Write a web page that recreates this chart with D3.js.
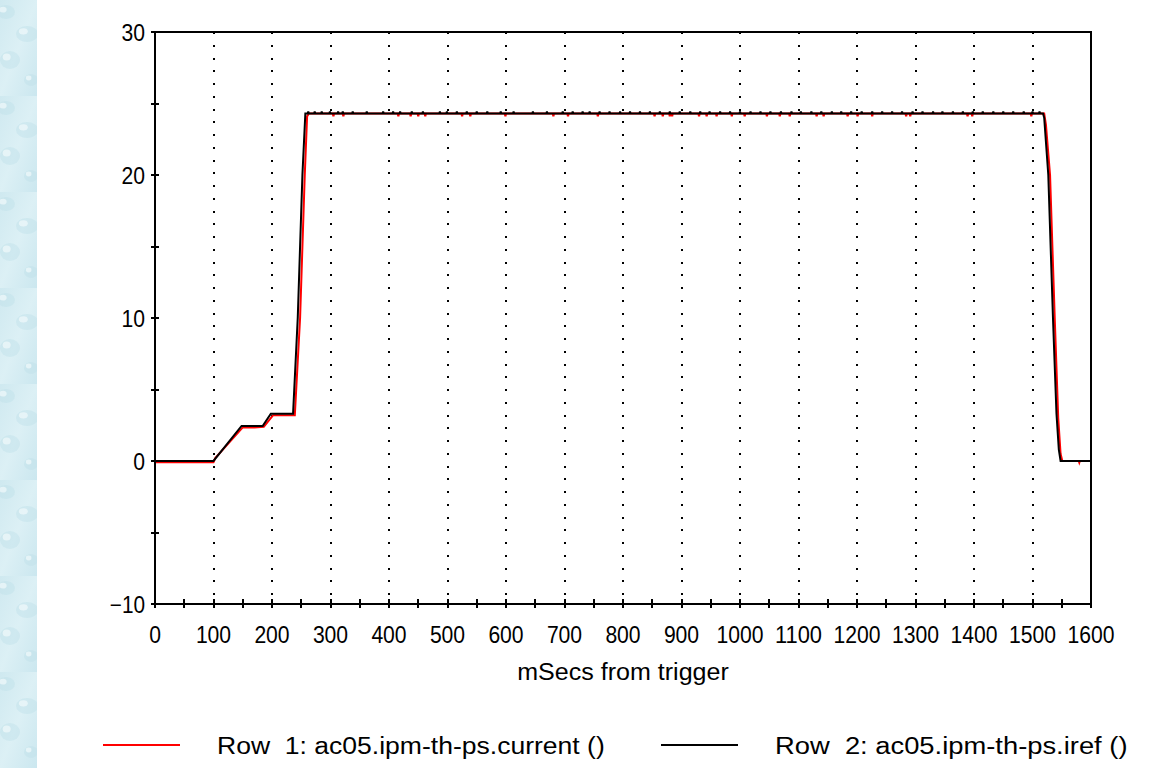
<!DOCTYPE html>
<html>
<head>
<meta charset="utf-8">
<script src="https://cdn.jsdelivr.net/npm/d3@7"></script>
<style>
  body { margin: 0; background: #fff; }
  svg { display: block; }
  text { font-family: 'Liberation Sans', Arial, sans-serif; font-size: 23px; fill: #000; white-space: pre; }
</style>
</head>
<body>
<svg id="chart" width="1158" height="768"></svg>
<script>
// values
const xTickLabels = [0, 100, 200, 300, 400, 500, 600, 700, 800, 900, 1000, 1100, 1200, 1300, 1400, 1500, 1600];
const yTickLabels = [30, 20, 10, 0, -10];
const gridTimes = [100, 200, 300, 400, 500, 600, 700, 800, 900, 1000, 1100, 1200, 1300, 1400, 1500];

// Row 2: iref (black)
const irefSeries = [
  [0, 0], [100, 0], [148, 2.45], [184, 2.45], [198, 3.3], [236, 3.3],
  [244, 10], [252, 20], [257, 24.3], [1518, 24.3], [1520, 24.0],
  [1527, 20], [1535, 10], [1541, 3.3], [1545, 0.8], [1548, 0], [1600, 0]
];
// small upward blips on the iref plateau
const irefBlips = [
  262, 273, 285, 299, 313, 321, 338, 362, 390, 407, 419, 439, 458, 487, 499,
  516, 533, 550, 568, 591, 613, 646, 670, 697, 714, 731, 743, 760, 777, 795,
  812, 829, 846, 863, 880, 897, 915, 932, 948, 966, 983, 1000, 1018, 1035,
  1052, 1070, 1088, 1104, 1122, 1139, 1157, 1173, 1190, 1208, 1226, 1243,
  1260, 1277, 1295, 1312, 1330, 1346, 1364, 1381, 1398, 1415, 1433, 1450,
  1467, 1485, 1500, 1512
];

// Row 1: current (red)
const currentSeries = [
  [0, -0.08], [100, -0.08], [103, 0.2], [150, 2.35], [170, 2.35], [186, 2.4],
  [202, 3.2], [239, 3.2], [248, 10], [256, 20], [260, 24.1], [263, 24.3],
  [1520, 24.3], [1523, 23.5], [1530, 20], [1538, 10], [1544, 3], [1548, 0.5],
  [1551, 0], [1579, 0], [1580, -0.12], [1581, 0], [1600, 0]
];
// small downward dips on the current plateau
const currentDips = [
  305, 322, 416, 437, 450, 462, 525, 539, 599, 681, 706, 757, 854, 868, 880,
  884, 930, 943, 960, 986, 1008, 1046, 1068, 1085, 1131, 1143, 1184, 1201,
  1226, 1284, 1291, 1389, 1397, 1498
];

const legendItems = [
  { label: 'Row  1: ac05.ipm-th-ps.current ()', color: '#ff0000' },
  { label: 'Row  2: ac05.ipm-th-ps.iref ()', color: '#000000' }
];

const W = 1158;
const H = 768;
const plot = { left: 155, right: 1091, top: 32, bottom: 604 };
const charW = 11.75;

const svg = d3.select('#chart');

// textured light-blue strip on the left edge
const defs = svg.append('defs');
const bg = defs.append('linearGradient')
  .attr('id', 'stripGrad')
  .attr('x1', 0).attr('x2', 1).attr('y1', 0).attr('y2', 1);
bg.append('stop').attr('offset', '0%').attr('stop-color', '#cfe9f0');
bg.append('stop').attr('offset', '50%').attr('stop-color', '#dcf0f5');
bg.append('stop').attr('offset', '100%').attr('stop-color', '#cbe7ef');
const pat = defs.append('pattern')
  .attr('id', 'bubbles')
  .attr('patternUnits', 'userSpaceOnUse')
  .attr('width', 37).attr('height', 96);
pat.append('rect').attr('width', 37).attr('height', 96).attr('fill', 'url(#stripGrad)');
[[6, 12, 9, 7], [27, 34, 11, 8], [10, 60, 10, 9], [31, 80, 7, 6]].forEach(([cx, cy, rx, ry]) => {
  pat.append('ellipse').attr('cx', cx).attr('cy', cy).attr('rx', rx).attr('ry', ry)
    .attr('fill', '#bfe0ea').attr('opacity', 0.45);
  pat.append('ellipse').attr('cx', cx - rx / 3).attr('cy', cy - ry / 3).attr('rx', rx / 2.5).attr('ry', ry / 2.5)
    .attr('fill', '#f1fafc').attr('opacity', 0.7);
});
svg.append('rect')
  .attr('x', 0).attr('y', 0).attr('width', 37).attr('height', H)
  .attr('fill', 'url(#bubbles)');

const x = d3.scaleLinear().domain([0, 1600]).range([plot.left, plot.right]);
const y = d3.scaleLinear().domain([-10, 30]).range([plot.bottom, plot.top]);

function label(g, px, py, str, anchor) {
  return g.append('text')
    .attr('x', px)
    .attr('y', py)
    .attr('text-anchor', anchor)
    .attr('xml:space', 'preserve')
    .attr('textLength', str.length * charW)
    .attr('lengthAdjust', 'spacingAndGlyphs')
    .text(str);
}

// dotted vertical grid
svg.append('g')
  .selectAll('line')
  .data(gridTimes)
  .join('line')
    .attr('x1', (d) => Math.round(x(d)))
    .attr('x2', (d) => Math.round(x(d)))
    .attr('y1', plot.top)
    .attr('y2', plot.bottom)
    .attr('stroke', '#000')
    .attr('stroke-width', 2)
    .attr('stroke-dasharray', '2,10.75')
    .attr('shape-rendering', 'crispEdges');

// insert narrow blips into a series (plateau level -> blip level -> plateau)
function withBlips(series, times, base, level) {
  const pts = series.slice();
  times.forEach((t) => {
    pts.push([t - 1, base], [t - 0.4, level], [t + 0.4, level], [t + 1, base]);
  });
  return pts.sort((a, b) => a[0] - b[0]);
}

const line = d3.line()
  .x((d) => x(d[0]))
  .y((d) => y(d[1]));

svg.append('path')
  .datum(withBlips(currentSeries, currentDips, 24.3, 24.16))
  .attr('fill', 'none')
  .attr('stroke', '#ff0000')
  .attr('stroke-width', 2)
  .attr('d', line);

svg.append('path')
  .datum(withBlips(irefSeries, irefBlips, 24.3, 24.38))
  .attr('fill', 'none')
  .attr('stroke', '#000')
  .attr('stroke-width', 2)
  .attr('d', line);

// frame
const frame = svg.append('g')
  .attr('stroke', '#000')
  .attr('stroke-width', 2)
  .attr('shape-rendering', 'crispEdges');
frame.append('rect')
  .attr('x', plot.left)
  .attr('y', plot.top)
  .attr('width', plot.right - plot.left)
  .attr('height', plot.bottom - plot.top)
  .attr('fill', 'none');

// y ticks (major + minor), crossing the axis
frame.selectAll('.ytick')
  .data(d3.range(-10, 31, 5))
  .join('line')
    .attr('class', 'ytick')
    .attr('x1', plot.left - 4)
    .attr('x2', plot.left + 4)
    .attr('y1', (d) => Math.round(y(d)))
    .attr('y2', (d) => Math.round(y(d)));

// x ticks every 50, crossing the axis
frame.selectAll('.xtick')
  .data(d3.range(0, 1601, 50))
  .join('line')
    .attr('class', 'xtick')
    .attr('x1', (d) => Math.round(x(d)))
    .attr('x2', (d) => Math.round(x(d)))
    .attr('y1', plot.bottom - 5)
    .attr('y2', plot.bottom + 4);

const labels = svg.append('g');
yTickLabels.forEach((v) => {
  label(labels, plot.left - 10, y(v) + 8.5, v < 0 ? '\u2212' + Math.abs(v) : String(v), 'end');
});
xTickLabels.forEach((v) => {
  label(labels, x(v), 643, String(v), 'middle');
});
label(labels, (plot.left + plot.right) / 2, 680, 'mSecs from trigger', 'middle');

// legend
const legendX = [103, 661];
legendItems.forEach((item, i) => {
  svg.append('line')
    .attr('x1', legendX[i])
    .attr('x2', legendX[i] + 77)
    .attr('y1', 745)
    .attr('y2', 745)
    .attr('stroke', item.color)
    .attr('stroke-width', 2)
    .attr('shape-rendering', 'crispEdges');
  label(svg, legendX[i] + 114, 754, item.label, 'start');
});
</script>
</body>
</html>
